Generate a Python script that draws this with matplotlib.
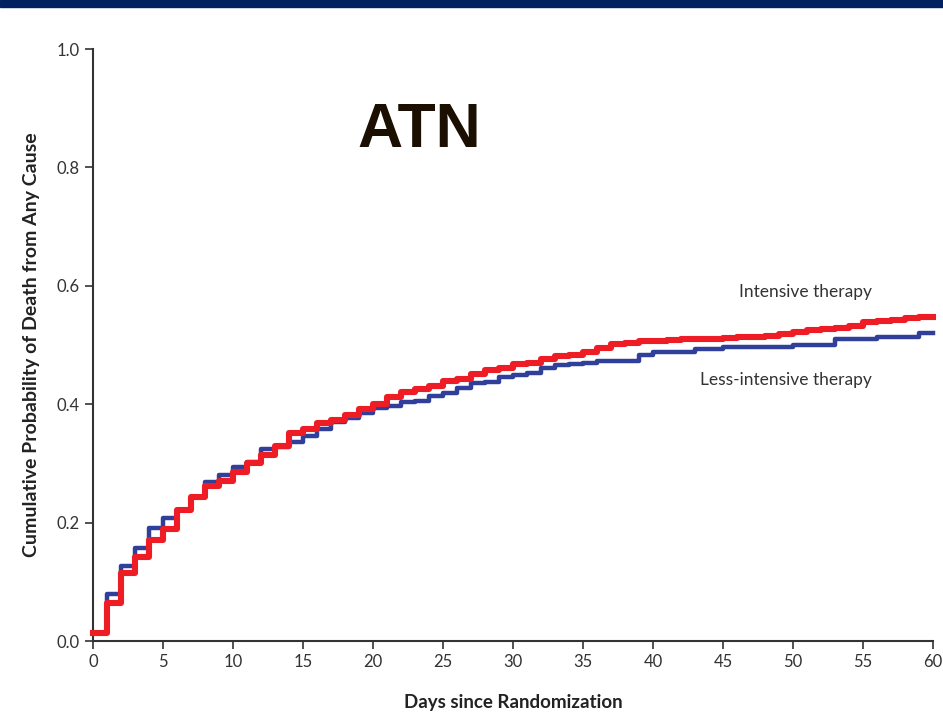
import matplotlib
matplotlib.use("Agg")
import matplotlib.pyplot as plt
from matplotlib.patches import Rectangle

# data (value held from each day to the next)
days = list(range(0, 61))
intensive = [0.013, 0.064, 0.115, 0.142, 0.171, 0.189, 0.221, 0.244, 0.262, 0.270,
             0.285, 0.300, 0.315, 0.330, 0.351, 0.358, 0.368, 0.374, 0.382, 0.392,
             0.401, 0.412, 0.421, 0.425, 0.430, 0.439, 0.443, 0.451, 0.457, 0.461,
             0.468, 0.470, 0.476, 0.481, 0.483, 0.489, 0.495, 0.501, 0.503, 0.506,
             0.506, 0.508, 0.511, 0.511, 0.511, 0.512, 0.514, 0.514, 0.515, 0.518,
             0.522, 0.526, 0.527, 0.528, 0.532, 0.539, 0.540, 0.542, 0.545, 0.548,
             0.548]
less_intensive = [0.013, 0.079, 0.126, 0.157, 0.191, 0.208, 0.221, 0.244, 0.268, 0.280,
                  0.294, 0.303, 0.324, 0.328, 0.337, 0.347, 0.358, 0.370, 0.376, 0.385,
                  0.393, 0.397, 0.403, 0.406, 0.414, 0.419, 0.427, 0.435, 0.438, 0.446,
                  0.449, 0.453, 0.461, 0.467, 0.468, 0.469, 0.473, 0.473, 0.473, 0.483,
                  0.489, 0.489, 0.489, 0.493, 0.493, 0.497, 0.497, 0.497, 0.497, 0.497,
                  0.500, 0.500, 0.500, 0.510, 0.510, 0.510, 0.514, 0.514, 0.514, 0.520,
                  0.520]
x_ticks = list(range(0, 61, 5))
y_ticks = [0.0, 0.2, 0.4, 0.6, 0.8, 1.0]

plt.rcParams['font.family'] = ['Lato', 'DejaVu Sans']

fig = plt.figure(figsize=(9.43, 7.23), dpi=100)
ax = fig.add_axes([0.0986, 0.1134, 0.8908, 0.8188])

# navy band at the top of the slide
fig.patches.append(Rectangle((0, 0.991), 1, 0.009, transform=fig.transFigure,
                             color='#002060', zorder=0))

# plot curves
ax.step(days, less_intensive, where='post', color='#2f3f9a', lw=3.2, clip_on=False, zorder=3)
ax.step(days, intensive, where='post', color='#ee1c24', lw=4.4, clip_on=False, zorder=4)

ax.set_xlim(0, 60)
ax.set_ylim(0, 1.0)
ax.set_xticks(x_ticks)
ax.set_yticks(y_ticks)
ax.set_yticklabels([f"{v:.1f}" for v in y_ticks])

for s in ['top', 'right']:
    ax.spines[s].set_visible(False)
for s in ['left', 'bottom']:
    ax.spines[s].set_color('#333333')
    ax.spines[s].set_linewidth(1.5)
ax.tick_params(direction='out', length=6, width=1.2, color='#333333',
               labelsize=12, labelcolor='#333333')

# labels
ax.set_xlabel('Days since Randomization', fontsize=13.5, fontweight='bold', color='#222222', labelpad=17)
ax.set_ylabel('Cumulative Probability of Death from Any Cause', fontsize=14,
              fontweight='bold', color='#222222', labelpad=12)

ax.text(0.389, 0.862, 'ATN', transform=ax.transAxes, fontsize=45, fontweight='bold',
        family=['Liberation Sans', 'DejaVu Sans'], color='#1a0f00', ha='center', va='center')
ax.text(50.9, 0.590, 'Intensive therapy', fontsize=12.5, color='#333333', ha='center', va='center')
ax.text(49.5, 0.441, 'Less-intensive therapy', fontsize=12.5, color='#333333', ha='center', va='center')

fig.savefig('out.png', dpi=100)
